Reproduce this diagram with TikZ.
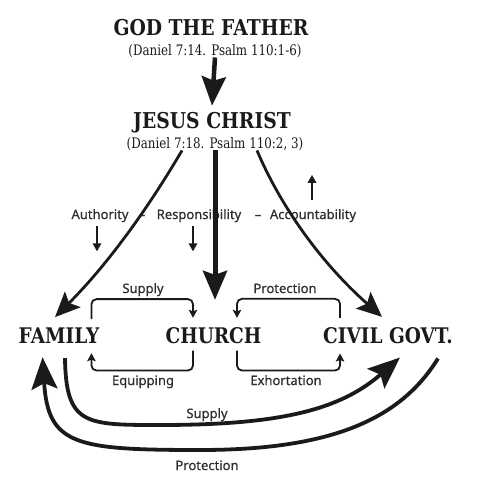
\documentclass[tikz,border=0pt]{standalone}
\usepackage{fontspec}
\setmainfont{DejaVu Serif}
\newfontfamily\slab[FakeStretch=0.86]{DejaVu Serif}
\newfontfamily\citefont[FakeStretch=0.82]{DejaVu Serif}
\newfontfamily\labelfont[FakeBold=0.6]{Noto Sans}
\usetikzlibrary{arrows.meta}
\definecolor{ink}{HTML}{1A1A1A}
\definecolor{labelgray}{HTML}{2E2E2E}
\begin{document}
\begin{tikzpicture}[x=1pt, y=-1pt, ink,
  title/.style={font=\slab\bfseries\fontsize{21.8}{21.8}\selectfont, inner sep=0, anchor=base},
  realm/.style={font=\slab\bfseries\fontsize{21.5}{21.5}\selectfont, inner sep=0, anchor=base},
  cite/.style={font=\citefont\fontsize{14.5}{14.5}\selectfont, inner sep=0, anchor=base},
  lbl/.style={font=\labelfont\fontsize{13}{13}\selectfont, text=labelgray, inner sep=0, anchor=base},
  spine/.style={line width=5pt, -{Stealth[length=29pt, width=24pt, inset=4pt]}},
  branch/.style={line width=2.8pt, -{Stealth[length=25pt, width=22pt, inset=5pt]}},
  sweep/.style={line width=3.8pt, -{Stealth[length=32pt, width=26pt, inset=6pt]}},
  loopline/.style={line width=1.8pt, rounded corners=5pt, -{Stealth[length=8pt, width=8.5pt, inset=1.5pt]}},
  tick/.style={line width=1.7pt, -{Triangle[length=8pt, width=8.5pt]}}]
\useasboundingbox (0,0) rectangle (484,499);
% the chain of authority
\node[title] (father) at (211,35) {GOD THE FATHER};
\node[cite] (fathercite) at (215,55) {(Daniel 7:14. Psalm 110:1-6)};
\node[title] (jesus) at (212,128) {JESUS CHRIST};
\node[cite] (jesuscite) at (215,148) {(Daniel 7:18. Psalm 110:2, 3)};
\draw[spine, line width=4.5pt] (fathercite.south) -- ([yshift=6pt]jesus.north);
% the three realms
\node[realm] (family) at (59,343) {FAMILY};
\node[realm] (church) at (213.5,343) {CHURCH};
\node[realm] (civil) at (388,343) {CIVIL GOVT.};
% authority -- responsibility -- accountability
\node[lbl] (auth) at (100,219) {Authority};
\node[lbl] (dashl) at (142,219) {–};
\node[lbl] (resp) at (199,219) {Responsibility};
\node[lbl] (dashr) at (258,219) {–};
\node[lbl] (acc) at (313,219) {Accountability};
\draw[tick] ([shift={(-3pt,-4pt)}]auth.south) -- ++(0,25);
\draw[tick] ([shift={(-6pt,-4pt)}]resp.south) -- ++(0,25);
\draw[tick] ([shift={(-1pt,9pt)}]acc.north) -- ++(0,-25);
% from Jesus Christ down to each realm
\draw[spine] (jesuscite.south) -- ([yshift=27pt]jesuscite.south |- church.north);
\draw[branch] ([xshift=-33pt]jesuscite.south) .. controls (150,205) and (110,262) .. ([shift={(-4pt,10pt)}]family.north);
\draw[branch] ([xshift=42pt]jesuscite.south) .. controls (280,205) and (320,262) .. ([shift={(-6pt,10pt)}]civil.north);
% between the realms
\draw[loopline] ([shift={(-8pt,8pt)}]family.north east) -- ++(0,-20) -| ([shift={(-20.5pt,9pt)}]church.north);
\draw[loopline] ([shift={(17pt,9pt)}]civil.north west) -- ++(0,-19) -| ([shift={(23.5pt,9pt)}]church.north);
\draw[loopline] ([shift={(-20.5pt,-7pt)}]church.south) -- ++(0,20) -| ([shift={(-8pt,-10pt)}]family.south east);
\draw[loopline] ([shift={(23.5pt,-7pt)}]church.south) -- ++(0,20) -| ([shift={(17pt,-10pt)}]civil.south west);
\node[lbl] (supplytop) at (143,293) {Supply};
\node[lbl] (protecttop) at (285,293) {Protection};
\node[lbl] (equip) at (143,385) {Equipping};
\node[lbl] (exhort) at (286,385) {Exhortation};
% family and civil government
\draw[sweep] ([shift={(6pt,-15pt)}]family.south) .. controls (66,425) and (85,425) .. (160,425)
  .. controls (280,425) and (340,410) .. ([shift={(12pt,-14pt)}]civil.south);
\draw[sweep] ([shift={(-15pt,-15pt)}]civil.south east) .. controls (400,420) and (330,450) .. (200,450)
  .. controls (75,450) and (48,445) .. ([shift={(24pt,-14pt)}]family.south west);
\node[lbl] (supplylow) at (207,418) {Supply};
\node[lbl] (protectlow) at (207,470) {Protection};
\end{tikzpicture}
\end{document}
